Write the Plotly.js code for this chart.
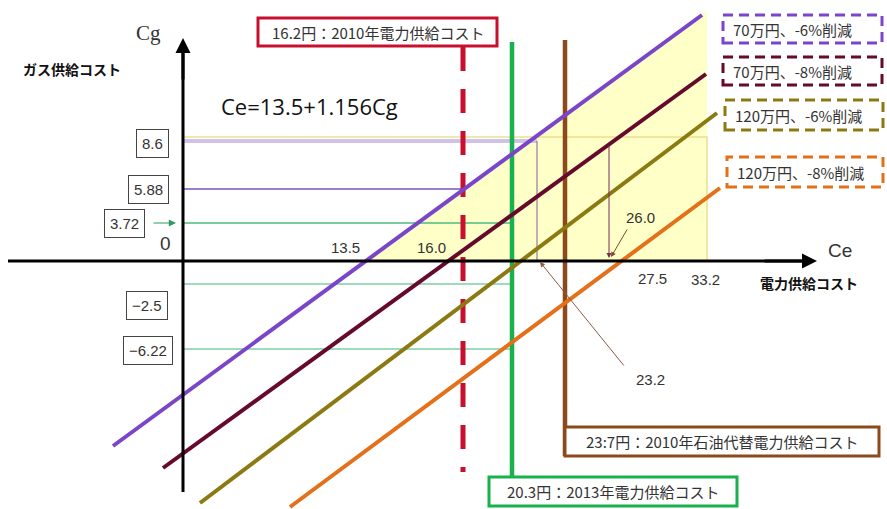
<!DOCTYPE html>
<html>
<head>
<meta charset="utf-8">
<script src="https://cdn.plot.ly/plotly-3.0.1.min.js"></script>
<style>html,body{margin:0;padding:0;background:#fff;}#chart{width:887px;height:509px;}</style>
</head>
<body>
<div id="chart"></div>
<script>
// Schematic diagram coordinates (Cg axis at x=0, Ce axis at y=0)
const lineNames = ['70万円、-6%削減', '70万円、-8%削減', '120万円、-6%削減', '120万円、-8%削減'];
const lineColors = ['#7a45c8', '#650a2c', '#8b7a12', '#e4701a'];
const lineStartX = [-7.0, -2.0, 1.7, 10.7];
const lineStartY = [-18.5, -20.7, -24.2, -24.6];
const lineEndX = [51.9, 52.3, 53.4, 53.7];
const lineEndY = [24.6, 18.7, 14.8, 7.3];
const legendBoxX0 = [54.0, 54.0, 54.2, 54.4];
const legendBoxX1 = [69.9, 69.9, 70.0, 70.0];
const legendBoxTop = [24.6, 20.4, 16.1, 10.4];
const legendBoxBottom = [21.8, 17.6, 13.1, 7.4];

const refLabels = ['16.2円：2010年電力供給コスト', '20.3円：2013年電力供給コスト', '23:7円：2010年石油代替電力供給コスト'];
const refX = [28.0, 32.9, 38.2];
const refTop = [21.4, 21.9, 22.1];
const refBottom = [-21.1, -21.6, -19.5];
const refColors = ['#c8102e', '#19b04e', '#8c4a1c'];
const refBoxX0 = [7.5, 30.6, 38.2];
const refBoxX1 = [31.4, 55.4, 69.6];
const refBoxTop = [24.3, -21.6, -16.6];
const refBoxBottom = [21.5, -24.5, -19.5];

const cgLabels = ['8.6', '5.88', '3.72', '-2.5', '-6.22'];
const cgLevelY = [12.0, 7.2, 3.8, -2.3, -8.8];
const cgLineEnd = [35.4, 28.0, 32.9, 32.9, 32.9];
const cgLineColors = ['#cfc2e4', '#9a80cc', '#4dbb7f', '#7ccfa4', '#7ccfa4'];
const cgLineWidths = [4, 2, 1.5, 1.5, 1.5];
const cgLabelX = [-3.1, -3.5, -5.9, -3.6, -3.5];
const cgLabelY = [11.8, 7.2, 3.8, -4.4, -8.9];

const ceLabels = ['13.5', '16.0', '26.0', '27.5', '33.2', '23.2'];
const ceLabelX = [16.2, 24.8, 45.7, 46.9, 52.2, 46.7];
const ceLabelY = [1.4, 1.4, 4.4, -1.7, -1.8, -11.8];

const regionX = [18.3, 52.4, 52.4, 18.3];
const regionY = [0, 25.0, 0, 0];
const topLevelY = 12.4;

const traces = [];
// yellow feasible region
traces.push({x: regionX, y: regionY, mode: 'lines', fill: 'toself', fillcolor: '#ffffc8',
  line: {width: 0}, hoverinfo: 'skip'});
// yellow boundary lines
traces.push({x: [0, regionX[1], regionX[2]], y: [topLevelY, topLevelY, 0], mode: 'lines',
  line: {color: '#ebe08f', width: 1.5}, hoverinfo: 'skip'});
// Cg level guide lines
for (let i = 0; i < cgLabels.length; i++) {
  traces.push({x: [0, cgLineEnd[i]], y: [cgLevelY[i], cgLevelY[i]], mode: 'lines',
    line: {color: cgLineColors[i], width: cgLineWidths[i]}, hoverinfo: 'skip'});
}
// 23.2 drop line
traces.push({x: [cgLineEnd[0], cgLineEnd[0]], y: [cgLevelY[0], 0], mode: 'lines',
  line: {color: '#8a5a9a', width: 1}, hoverinfo: 'skip'});
// reference vertical lines
for (let i = 0; i < refX.length; i++) {
  traces.push({x: [refX[i], refX[i]], y: [refTop[i], refBottom[i]], mode: 'lines',
    line: {color: refColors[i], width: i === 0 ? 5 : 4.5, dash: i === 0 ? '24px,18px' : 'solid'}, hoverinfo: 'skip'});
}
// iso-profit lines
for (let i = 0; i < lineNames.length; i++) {
  traces.push({x: [lineStartX[i], lineEndX[i]], y: [lineStartY[i], lineEndY[i]], mode: 'lines',
    name: lineNames[i], line: {color: lineColors[i], width: 4}, hoverinfo: 'skip'});
}

const shapes = [];
// axes
shapes.push({type: 'line', xref: 'x', yref: 'y', x0: -17.5, x1: 62.0, y0: 0, y1: 0, line: {color: '#000', width: 3}});
shapes.push({type: 'line', xref: 'x', yref: 'y', x0: 0, x1: 0, y0: -23.1, y1: 21.0, line: {color: '#000', width: 3}});
// reference label boxes
for (let i = 0; i < refX.length; i++) {
  shapes.push({type: 'rect', xref: 'x', yref: 'y', x0: refBoxX0[i], x1: refBoxX1[i], y0: refBoxBottom[i], y1: refBoxTop[i],
    fillcolor: '#fff', line: {color: refColors[i], width: 3}});
}
// legend boxes (dashed)
for (let i = 0; i < lineNames.length; i++) {
  shapes.push({type: 'rect', xref: 'x', yref: 'y', x0: legendBoxX0[i], x1: legendBoxX1[i], y0: legendBoxBottom[i], y1: legendBoxTop[i],
    fillcolor: 'rgba(255,255,255,0)', line: {color: lineColors[i], width: 3, dash: '10px,6px'}});
}

const jp = "'Noto Sans CJK JP', 'Noto Sans', sans-serif";
const annotations = [];
// axis arrow heads
annotations.push({x: 63.4, y: 0, ax: 58.0, ay: 0, axref: 'x', ayref: 'y', xref: 'x', yref: 'y', text: '',
  showarrow: true, arrowhead: 2, arrowsize: 1, arrowwidth: 3, arrowcolor: '#000'});
annotations.push({x: 0, y: 22.3, ax: 0, ay: 18.0, axref: 'x', ayref: 'y', xref: 'x', yref: 'y', text: '',
  showarrow: true, arrowhead: 2, arrowsize: 1, arrowwidth: 3, arrowcolor: '#000'});
// axis titles
annotations.push({x: -3.5, y: 22.8, xref: 'x', yref: 'y', text: 'Cg', showarrow: false,
  font: {family: 'Liberation Serif, serif', size: 21, color: '#333'}});
annotations.push({x: 65.7, y: 1.1, xref: 'x', yref: 'y', text: 'Ce', showarrow: false,
  font: {family: 'Liberation Sans, sans-serif', size: 19, color: '#333'}});
annotations.push({x: -11.1, y: 19.2, xref: 'x', yref: 'y', text: '<b>ガス供給コスト</b>', showarrow: false,
  font: {family: jp, size: 14, color: '#111'}});
annotations.push({x: 62.6, y: -2.2, xref: 'x', yref: 'y', text: '<b>電力供給コスト</b>', showarrow: false,
  font: {family: jp, size: 14, color: '#111'}});
annotations.push({x: 12.6, y: 15.5, xref: 'x', yref: 'y', text: 'Ce=13.5+1.156Cg', showarrow: false,
  font: {family: 'Open Sans, sans-serif', size: 22, color: '#111'}});
annotations.push({x: -1.8, y: 1.8, xref: 'x', yref: 'y', text: '0', showarrow: false,
  font: {family: 'Liberation Sans, sans-serif', size: 19, color: '#333'}});
// Cg value boxes
for (let i = 0; i < cgLabels.length; i++) {
  annotations.push({x: cgLabelX[i], y: cgLabelY[i], xref: 'x', yref: 'y', text: cgLabels[i].replace('-', '−'), showarrow: false,
    bordercolor: '#444', borderwidth: 1, borderpad: 5, bgcolor: '#fff',
    font: {family: 'Liberation Sans, sans-serif', size: 15, color: '#333'}});
}
// 3.72 small arrow
annotations.push({x: -0.7, y: cgLevelY[2], ax: -3.1, ay: cgLevelY[2], axref: 'x', ayref: 'y', xref: 'x', yref: 'y', text: '',
  showarrow: true, arrowhead: 2, arrowsize: 1.2, arrowwidth: 1.2, arrowcolor: '#2e9c60'});
// Ce value labels
for (let i = 0; i < ceLabels.length; i++) {
  annotations.push({x: ceLabelX[i], y: ceLabelY[i], xref: 'x', yref: 'y', text: ceLabels[i], showarrow: false,
    font: {family: 'Liberation Sans, sans-serif', size: 15, color: '#333'}});
}
// 26.0 drop arrow and pointer
annotations.push({x: 42.6, y: 0.3, ax: 42.6, ay: 11.7, axref: 'x', ayref: 'y', xref: 'x', yref: 'y', text: '',
  showarrow: true, arrowhead: 2, arrowsize: 1, arrowwidth: 1, arrowcolor: '#7a2a55'});
annotations.push({x: 42.8, y: 0.4, ax: 44.5, ay: 3.3, axref: 'x', ayref: 'y', xref: 'x', yref: 'y', text: '',
  showarrow: true, arrowhead: 2, arrowsize: 1, arrowwidth: 1, arrowcolor: '#7a4a2a'});
// 23.2 pointer
annotations.push({x: 35.7, y: -0.1, ax: 44.2, ay: -10.6, axref: 'x', ayref: 'y', xref: 'x', yref: 'y', text: '',
  showarrow: true, arrowhead: 2, arrowsize: 1, arrowwidth: 1, arrowcolor: '#8a5a4a'});
// reference box texts
for (let i = 0; i < refX.length; i++) {
  annotations.push({x: (refBoxX0[i] + refBoxX1[i]) / 2, y: (refBoxTop[i] + refBoxBottom[i]) / 2, xref: 'x', yref: 'y',
    text: refLabels[i], showarrow: false, font: {family: jp, size: 15, color: '#333'}});
}
// legend box texts
for (let i = 0; i < lineNames.length; i++) {
  annotations.push({x: legendBoxX0[i] + 0.8, y: (legendBoxTop[i] + legendBoxBottom[i]) / 2, xref: 'x', yref: 'y', xanchor: 'left',
    text: lineNames[i], showarrow: false, font: {family: jp, size: 15, color: '#333'}});
}

const layout = {
  width: 887, height: 509,
  margin: {l: 0, r: 0, t: 0, b: 0, pad: 0},
  paper_bgcolor: '#fff', plot_bgcolor: '#fff',
  showlegend: false,
  xaxis: {range: [-18.3, 70.4], visible: false, fixedrange: true},
  yaxis: {range: [-24.8, 26.1], visible: false, fixedrange: true},
  shapes: shapes,
  annotations: annotations
};
Plotly.newPlot('chart', traces, layout, {displayModeBar: false, staticPlot: true});
</script>
</body>
</html>
